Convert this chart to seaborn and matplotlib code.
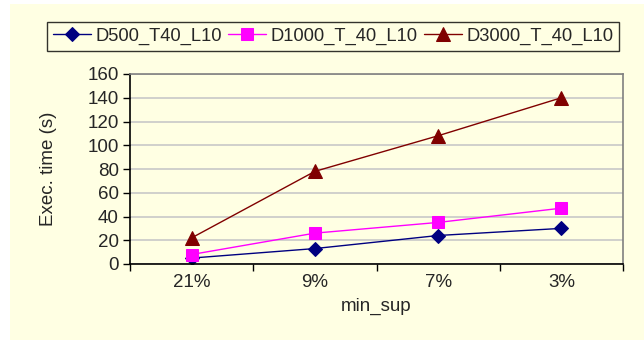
import matplotlib
matplotlib.use("Agg")
import matplotlib.pyplot as plt
import matplotlib.patches as mpatches
import seaborn as sns
import pandas as pd

categories = ["21%", "9%", "7%", "3%"]
d500 = [5, 13, 24, 30]
d1000 = [8, 26, 35, 47]
d3000 = [22, 78, 108, 140]
series_names = ["D500_T40_L10", "D1000_T_40_L10", "D3000_T_40_L10"]
yticks = [0, 20, 40, 60, 80, 100, 120, 140, 160]

colors = ["#000080", "#FF00FF", "#800000"]
markers = ["D", "s", "^"]
msizes = [7, 9, 10]

rows = []
for name, vals in zip(series_names, [d500, d1000, d3000]):
    for i, (c, v) in enumerate(zip(categories, vals)):
        rows.append({"min_sup": c, "pos": i, "time": v, "series": name})
df = pd.DataFrame(rows)

sns.set_theme(style="white")
plt.rcParams["font.family"] = ["Liberation Sans", "DejaVu Sans"]

bg = "#FFFFE3"
fs = 13.5
fig = plt.figure(figsize=(6.44, 3.40), dpi=100)
fig.patch.set_facecolor("white")
fig.patches.append(mpatches.Rectangle((10 / 644, 0), 1, (340 - 4) / 340,
                                      transform=fig.transFigure,
                                      facecolor=bg, edgecolor="none", zorder=-10))

ax = fig.add_axes([130 / 644, (340 - 264) / 340, (623 - 130) / 644, (264 - 74) / 340])
ax.set_facecolor(bg)

for name, col, mk, ms in zip(series_names, colors, markers, msizes):
    sub = df[df["series"] == name]
    sns.lineplot(data=sub, x="pos", y="time", ax=ax, color=col, marker=mk,
                 markersize=ms, markeredgecolor=col, markerfacecolor=col,
                 linewidth=1.0, label=name, legend=False, sort=False)

ax.set_xlim(-0.5, len(categories) - 0.5)
ax.set_ylim(0, 160)
ax.set_yticks(yticks)
ax.set_yticklabels([str(t) for t in yticks], fontsize=fs)
ax.set_xticks(range(len(categories)))
ax.set_xticklabels(categories, fontsize=fs)
ax.set_xticks([i - 0.5 for i in range(len(categories) + 1)], minor=True)
ax.tick_params(axis="x", which="major", length=0, pad=7)
ax.tick_params(axis="x", which="minor", length=5, width=1, color="black", direction="out", bottom=True)
ax.tick_params(axis="y", which="major", length=5, width=1, color="black", direction="out", left=True, pad=3)

ax.yaxis.grid(True, color="#C8C8C8", linewidth=1.2)
ax.set_axisbelow(True)
for side in ["left", "bottom"]:
    ax.spines[side].set_color("black")
    ax.spines[side].set_linewidth(1.2)
for side in ["top", "right"]:
    ax.spines[side].set_color("#808080")
    ax.spines[side].set_linewidth(1.2)

ax.set_xlabel("min_sup", fontsize=fs, labelpad=5)
ax.set_ylabel("Exec. time (s)", fontsize=fs, labelpad=22)

handles, labels = ax.get_legend_handles_labels()
leg = fig.legend(handles, labels, loc="upper left",
                 bbox_to_anchor=(47 / 644, 1 - 22 / 340), ncol=3,
                 fontsize=13.2, frameon=True, fancybox=False, borderpad=0.32,
                 handlelength=2.08, handletextpad=0.25, columnspacing=0.33,
                 borderaxespad=0)
leg.get_frame().set_edgecolor("black")
leg.get_frame().set_linewidth(1.0)
leg.get_frame().set_facecolor(bg)

fig.savefig("out.png", dpi=100, facecolor=fig.get_facecolor())
